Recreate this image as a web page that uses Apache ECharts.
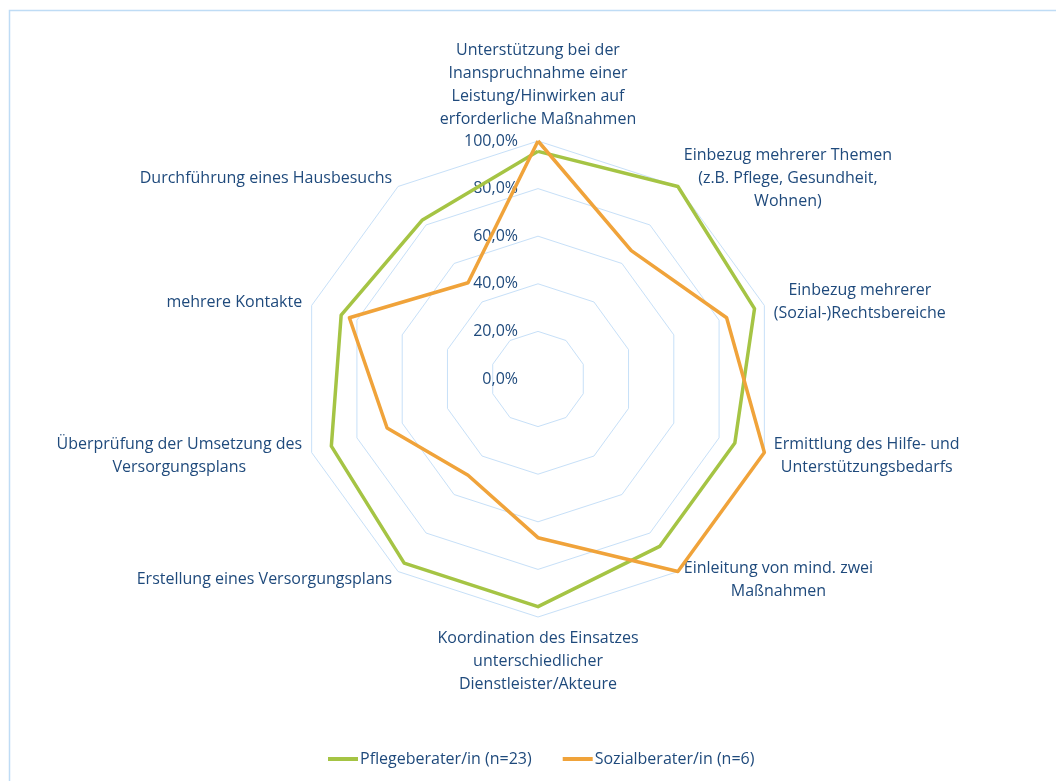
<!DOCTYPE html>
<html>
<head>
<meta charset="utf-8">
<script src="https://cdn.jsdelivr.net/npm/echarts@6/dist/echarts.min.js"></script>
<style>
html,body{margin:0;padding:0;background:#fff;}
#c{width:1056px;height:781px;}
</style>
</head>
<body>
<div id="c"></div>
<script>
// Categories in clockwise order starting at the top
const categories = [
  "Unterstützung bei der\nInanspruchnahme einer\nLeistung/Hinwirken auf\nerforderliche Maßnahmen",
  "Einbezug mehrerer Themen\n(z.B. Pflege, Gesundheit,\nWohnen)",
  "Einbezug mehrerer\n(Sozial-)Rechtsbereiche",
  "Ermittlung des Hilfe- und\nUnterstützungsbedarfs",
  "Einleitung von mind. zwei\nMaßnahmen",
  "Koordination des Einsatzes\nunterschiedlicher\nDienstleister/Akteure",
  "Erstellung eines Versorgungsplans",
  "Überprüfung der Umsetzung des\nVersorgungsplans",
  "mehrere Kontakte",
  "Durchführung eines Hausbesuchs"
];
const seriesNames = ["Pflegeberater/in (n=23)", "Sozialberater/in (n=6)"];
const pflegeValues = [95.65, 100, 95.65, 86.96, 86.96, 95.65, 95.65, 91.30, 86.96, 82.61];
const sozialValues = [100, 66.67, 83.33, 100, 100, 66.67, 50, 66.67, 83.33, 50];
const tickLabels = ["0,0%", "20,0%", "40,0%", "60,0%", "80,0%", "100,0%"];

const textColor = "#1F4A7C";
const gridColor = "#C7E0F8";
const colors = ["#A5C444", "#F0A33A"];
const FONT = "Open Sans";
const FS = 16;

// ECharts radar goes counter-clockwise; reorder to get clockwise layout
function cw(arr) { return [arr[0]].concat(arr.slice(1).reverse()); }

const cats = cw(categories);
const indicator = cats.map((c, i) => {
  const o = { name: c, min: 0, max: 100 };
  if (i === 0) {
    o.axisLabel = {
      show: true,
      color: textColor,
      fontSize: FS,
      fontFamily: FONT,
      margin: 20,
      formatter: v => tickLabels[Math.round(v / 20)]
    };
  }
  return o;
});

const chart = echarts.init(document.getElementById("c"), null, { renderer: "canvas" });
chart.setOption({
  animation: false,
  backgroundColor: "#fff",
  color: colors,
  graphic: [{
    type: "rect",
    shape: { x: 9.5, y: 10.5, width: 1200, height: 900 },
    style: { fill: "none", stroke: "#BFDCF5", lineWidth: 1.5 },
    silent: true
  }],
  legend: {
    bottom: 9,
    left: 323,
    itemWidth: 30,
    itemHeight: 4,
    itemGap: 31,
    icon: "rect",
    textStyle: { color: textColor, fontSize: FS, fontFamily: FONT, padding: [0, 0, 0, -3] },
    data: seriesNames
  },
  radar: {
    center: [538, 379],
    radius: 238,
    startAngle: 90,
    shape: "polygon",
    splitNumber: 5,
    indicator: indicator,
    axisName: {
      color: textColor,
      fontSize: FS,
      fontFamily: FONT,
      lineHeight: 23,
      formatter: function (name) {
        return name.split("\n").map(l => "{c|" + l + "}").join("\n");
      },
      rich: { c: { align: "center", color: textColor, fontSize: FS, fontFamily: FONT, lineHeight: 23 } }
    },
    nameGap: 10,
    axisLine: { show: false },
    axisTick: { show: false },
    axisLabel: { show: false },
    splitLine: { show: true, lineStyle: { color: gridColor, width: 1 } },
    splitArea: { show: false }
  },
  series: [{
    type: "radar",
    symbol: "none",
    data: [
      { name: seriesNames[0], value: cw(pflegeValues), lineStyle: { color: colors[0], width: 3.5 }, itemStyle: { color: colors[0] } },
      { name: seriesNames[1], value: cw(sozialValues), lineStyle: { color: colors[1], width: 3.5 }, itemStyle: { color: colors[1] } }
    ]
  }]
});
</script>
</body>
</html>
